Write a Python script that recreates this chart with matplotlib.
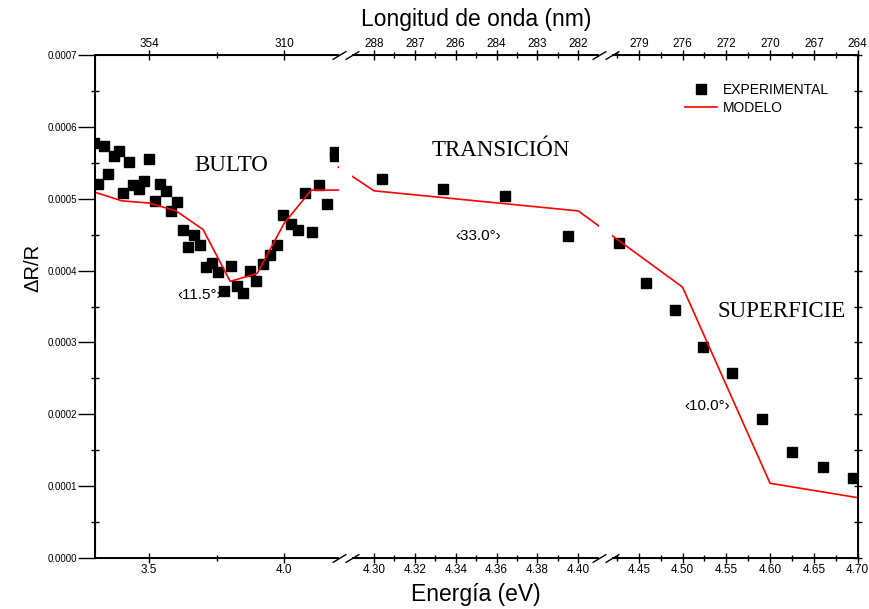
import numpy as np
import matplotlib
matplotlib.use("Agg")
import matplotlib.pyplot as plt
from matplotlib.transforms import blended_transform_factory
from matplotlib.patches import Rectangle
from matplotlib.ticker import FixedLocator, MultipleLocator, FormatStrFormatter, NullFormatter

plt.rcParams['font.family'] = ['Liberation Sans', 'DejaVu Sans']

# ---------------- data ----------------
exp_bulk_e = [3.298, 3.311, 3.332, 3.348, 3.369, 3.387, 3.403, 3.424, 3.441, 3.461,
              3.480, 3.500, 3.521, 3.540, 3.561, 3.581, 3.602, 3.624, 3.645, 3.666,
              3.688, 3.709, 3.733, 3.755, 3.778, 3.802, 3.825, 3.849, 3.874, 3.896,
              3.922, 3.948, 3.973, 3.996, 4.024, 4.051, 4.077, 4.103, 4.130, 4.159,
              4.187, 4.187]
exp_bulk_v = [5.77e-4, 5.21e-4, 5.74e-4, 5.34e-4, 5.59e-4, 5.66e-4, 5.08e-4, 5.51e-4, 5.19e-4, 5.14e-4,
              5.24e-4, 5.55e-4, 4.97e-4, 5.20e-4, 5.11e-4, 4.83e-4, 4.96e-4, 4.56e-4, 4.33e-4, 4.50e-4,
              4.36e-4, 4.05e-4, 4.11e-4, 3.98e-4, 3.72e-4, 4.07e-4, 3.79e-4, 3.69e-4, 4.00e-4, 3.86e-4,
              4.09e-4, 4.22e-4, 4.35e-4, 4.78e-4, 4.65e-4, 4.56e-4, 5.08e-4, 4.54e-4, 5.19e-4, 4.93e-4,
              5.65e-4, 5.60e-4]
exp_trans_e = [4.304, 4.334, 4.364, 4.395]
exp_trans_v = [5.28e-4, 5.13e-4, 5.04e-4, 4.48e-4]
exp_surf_e = [4.427, 4.458, 4.491, 4.523, 4.557, 4.591, 4.625, 4.660, 4.695]
exp_surf_v = [4.38e-4, 3.83e-4, 3.45e-4, 2.93e-4, 2.57e-4, 1.93e-4, 1.47e-4, 1.27e-4, 1.11e-4]

model_bulk_e = [3.3, 3.4, 3.5, 3.6, 3.7, 3.8, 3.9, 4.0, 4.1, 4.2]
model_bulk_v = [5.09e-4, 4.97e-4, 4.94e-4, 4.83e-4, 4.57e-4, 3.85e-4, 3.96e-4, 4.66e-4, 5.12e-4, 5.12e-4]
model_rest_e = [4.2, 4.3, 4.4, 4.5, 4.6, 4.7]
model_rest_v = [5.44e-4, 5.11e-4, 4.83e-4, 3.77e-4, 1.04e-4, 0.84e-4]

bottom_ticks = [3.5, 4.0, 4.30, 4.32, 4.34, 4.36, 4.38, 4.40, 4.45, 4.50, 4.55, 4.60, 4.65, 4.70]
bottom_labels = ['3.5', '4.0', '4.30', '4.32', '4.34', '4.36', '4.38', '4.40',
                 '4.45', '4.50', '4.55', '4.60', '4.65', '4.70']
top_labels = ['354', '310', '288', '287', '286', '284', '283', '282',
              '279', '276', '272', '270', '267', '264']
minor_ticks = [3.75, 4.31, 4.33, 4.35, 4.37, 4.39, 4.425, 4.475, 4.525, 4.575, 4.625, 4.675]

# ---------------- broken axis scale (piecewise linear) ----------------
BE = np.array([3.3, 4.2, 4.29, 4.41, 4.42, 4.70])
BP = np.array([95.0, 338.3, 353.6, 598.7, 612.5, 857.6])
S0 = (BP[1] - BP[0]) / (BE[1] - BE[0])
S1 = (BP[-1] - BP[-2]) / (BE[-1] - BE[-2])


def fwd(x):
    x = np.asarray(x, dtype=float)
    y = np.interp(x, BE, BP)
    y = np.where(x < BE[0], BP[0] + (x - BE[0]) * S0, y)
    y = np.where(x > BE[-1], BP[-1] + (x - BE[-1]) * S1, y)
    return y


def inv(p):
    p = np.asarray(p, dtype=float)
    x = np.interp(p, BP, BE)
    x = np.where(p < BP[0], BE[0] + (p - BP[0]) / S0, x)
    x = np.where(p > BP[-1], BE[-1] + (p - BP[-1]) / S1, x)
    return x


fig = plt.figure(figsize=(8.7, 6.09), dpi=100)
ax = fig.add_axes([95 / 870, 1 - 558 / 609, (857.6 - 95) / 870, (558 - 55) / 609])
ax.set_xscale('function', functions=(fwd, inv))
ax.set_xlim(3.3, 4.70)
ax.set_ylim(0, 0.0007)

model_e = model_bulk_e + [np.nan] + model_rest_e
model_v = model_bulk_v + [np.nan] + model_rest_v
exp_e = exp_bulk_e + exp_trans_e + exp_surf_e
exp_v = exp_bulk_v + exp_trans_v + exp_surf_v

ax.plot(exp_e, exp_v, ls='none', marker='s', ms=7, color='black', zorder=2, label='EXPERIMENTAL')
ax.plot(model_e, model_v, color='#ff0000', lw=1.2, zorder=3, label='MODELO')

# ticks
ax.xaxis.set_major_locator(FixedLocator(bottom_ticks))
ax.set_xticklabels(bottom_labels)
ax.xaxis.set_minor_locator(FixedLocator(minor_ticks))
ax.yaxis.set_major_locator(MultipleLocator(0.0001))
ax.yaxis.set_minor_locator(MultipleLocator(0.00005))
ax.yaxis.set_major_formatter(FormatStrFormatter('%.4f'))
ax.tick_params(axis='x', which='major', direction='inout', length=7, width=1, labelsize=8.5, pad=1)
ax.tick_params(axis='x', which='minor', direction='inout', length=4, width=1)
ax.tick_params(axis='y', which='major', direction='out', length=12, width=1, labelsize=7, pad=1)
ax.tick_params(axis='y', which='minor', direction='inout', length=6, width=1)
ax.tick_params(axis='y', which='both', right=False)

ax.set_xlabel('Energía (eV)', fontsize=16.5, labelpad=5)
ax.set_ylabel('ΔR/R', fontsize=14.5)
ax.yaxis.set_label_coords(-0.069, 0.577)

for s in ax.spines.values():
    s.set_linewidth(1.2)

# right-side ticks (short, crossing the frame)
ax3 = ax.twinx()
ax3.set_ylim(ax.get_ylim())
ax3.yaxis.set_major_locator(MultipleLocator(0.0001))
ax3.yaxis.set_minor_locator(MultipleLocator(0.00005))
ax3.yaxis.set_major_formatter(NullFormatter())
ax3.tick_params(axis='y', which='both', direction='inout', length=6, width=1, right=True, labelright=False)

# top axis
ax2 = ax.twiny()
ax2.set_xscale('function', functions=(fwd, inv))
ax2.set_xlim(ax.get_xlim())
ax2.xaxis.set_major_locator(FixedLocator(bottom_ticks))
ax2.set_xticklabels(top_labels)
ax2.xaxis.set_minor_locator(FixedLocator(minor_ticks))
ax2.tick_params(axis='x', which='major', direction='inout', length=7, width=1, labelsize=8.5, pad=0)
ax2.tick_params(axis='x', which='minor', direction='inout', length=4, width=1)
ax2.set_xlabel('Longitud de onda (nm)', fontsize=16.5, labelpad=9)
for s in ax2.spines.values():
    s.set_linewidth(1.2)

# axis breaks
bt = blended_transform_factory(ax2.transData, ax2.transAxes)
gaps = [(4.205, 4.2805), (4.4103, 4.4197)]
for g0, g1 in gaps:
    ax2.add_patch(Rectangle((g0, -0.012), g1 - g0, 1.024, transform=bt, facecolor='white',
                            edgecolor='none', zorder=20, clip_on=False))
    ax2.plot([g0, g1, g0, g1], [0, 0, 1, 1], transform=bt, ls='none',
             marker=[(-1, -0.6), (1, 0.6)], ms=10, mec='black', mew=1.0,
             zorder=21, clip_on=False)

# region labels
serif = ['Liberation Serif', 'DejaVu Serif']
ax.text(3.805, 0.000546, 'BULTO', family=serif, fontsize=16.5, ha='center', va='center')
ax.text(4.362, 0.000567, 'TRANSICIÓN', family=serif, fontsize=16.5, ha='center', va='center')
ax.text(4.613, 0.000343, 'SUPERFICIE', family=serif, fontsize=16.5, ha='center', va='center')
ax.text(3.688, 0.000366, '‹11.5°›', fontsize=11, ha='center', va='center')
ax.text(4.351, 0.000448, '‹33.0°›', fontsize=11, ha='center', va='center')
ax.text(4.528, 0.000212, '‹10.0°›', fontsize=11, ha='center', va='center')

leg = ax.legend(loc='upper left', bbox_to_anchor=(0.7737, 0.945), frameon=False,
                fontsize=10, borderpad=0, handlelength=2.3, handletextpad=0.4,
                labelspacing=0.3, borderaxespad=0)
leg.set_zorder(30)

fig.savefig('out.png', dpi=100)
